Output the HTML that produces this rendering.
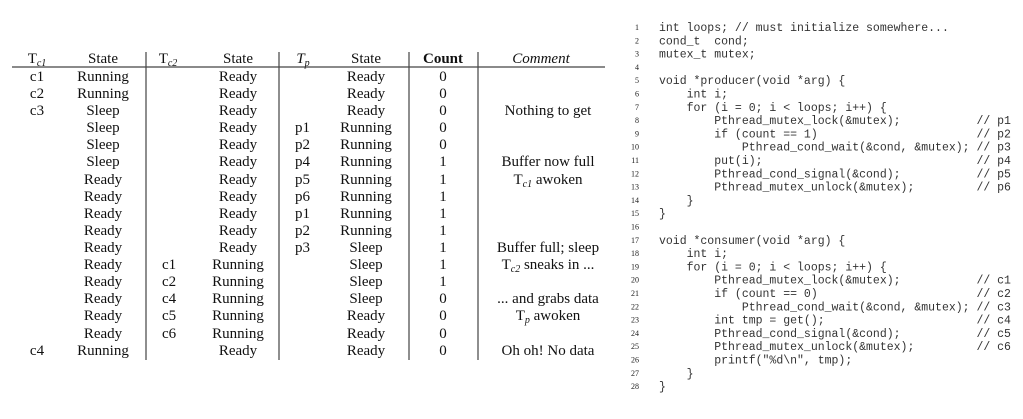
<!DOCTYPE html>
<html><head><meta charset="utf-8"><style>
html,body{margin:0;padding:0;background:#fff;width:1023px;height:419px;overflow:hidden}
svg{display:block}
.t{font-family:"Liberation Serif",serif;font-size:15px;fill:#111}
.c text{font-family:"Liberation Mono",monospace;font-size:11.5px;fill:#333;white-space:pre}
.n{font-family:"Liberation Serif",serif;font-size:8px;fill:#222}
</style></head><body>
<svg width="1023" height="419" xmlns="http://www.w3.org/2000/svg">
<g stroke="#444" stroke-width="1.2">
<line x1="12" y1="67" x2="605" y2="67"/>
<line x1="146" y1="52" x2="146" y2="360"/>
<line x1="279" y1="52" x2="279" y2="360"/>
<line x1="409" y1="52" x2="409" y2="360"/>
<line x1="478" y1="52" x2="478" y2="360"/>
</g>
<g class="t" text-anchor="middle">
<text x="37" y="63">T<tspan font-size="10" font-style="italic" dy="3">c1</tspan></text>
<text x="103" y="63">State</text>
<text x="168" y="63">T<tspan font-size="10" font-style="italic" dy="3">c2</tspan></text>
<text x="238" y="63">State</text>
<text x="303" y="63" font-style="italic">T<tspan font-size="10" dy="3">p</tspan></text>
<text x="366" y="63">State</text>
<text x="443" y="63" font-weight="bold">Count</text>
<text x="541" y="63" font-style="italic">Comment</text>
</g>
<g class="t" text-anchor="middle">
<text x="37" y="81">c1</text><text x="37" y="98">c2</text><text x="37" y="115">c3</text><text x="37" y="355">c4</text>
<text x="103" y="81">Running</text><text x="103" y="98">Running</text><text x="103" y="115">Sleep</text><text x="103" y="132">Sleep</text><text x="103" y="149">Sleep</text><text x="103" y="166">Sleep</text><text x="103" y="184">Ready</text><text x="103" y="201">Ready</text><text x="103" y="218">Ready</text><text x="103" y="235">Ready</text><text x="103" y="252">Ready</text><text x="103" y="269">Ready</text><text x="103" y="286">Ready</text><text x="103" y="303">Ready</text><text x="103" y="320">Ready</text><text x="103" y="338">Ready</text><text x="103" y="355">Running</text>
<text x="238" y="81">Ready</text><text x="238" y="98">Ready</text><text x="238" y="115">Ready</text><text x="238" y="132">Ready</text><text x="238" y="149">Ready</text><text x="238" y="166">Ready</text><text x="238" y="184">Ready</text><text x="238" y="201">Ready</text><text x="238" y="218">Ready</text><text x="238" y="235">Ready</text><text x="238" y="252">Ready</text><text x="238" y="269">Running</text><text x="238" y="286">Running</text><text x="238" y="303">Running</text><text x="238" y="320">Running</text><text x="238" y="338">Running</text><text x="238" y="355">Ready</text>
<text x="366" y="81">Ready</text><text x="366" y="98">Ready</text><text x="366" y="115">Ready</text><text x="366" y="132">Running</text><text x="366" y="149">Running</text><text x="366" y="166">Running</text><text x="366" y="184">Running</text><text x="366" y="201">Running</text><text x="366" y="218">Running</text><text x="366" y="235">Running</text><text x="366" y="252">Sleep</text><text x="366" y="269">Sleep</text><text x="366" y="286">Sleep</text><text x="366" y="303">Sleep</text><text x="366" y="320">Ready</text><text x="366" y="338">Ready</text><text x="366" y="355">Ready</text>
<text x="443" y="81">0</text><text x="443" y="98">0</text><text x="443" y="115">0</text><text x="443" y="132">0</text><text x="443" y="149">0</text><text x="443" y="166">1</text><text x="443" y="184">1</text><text x="443" y="201">1</text><text x="443" y="218">1</text><text x="443" y="235">1</text><text x="443" y="252">1</text><text x="443" y="269">1</text><text x="443" y="286">1</text><text x="443" y="303">0</text><text x="443" y="320">0</text><text x="443" y="338">0</text><text x="443" y="355">0</text>
<text x="548" y="115">Nothing to get</text>
<text x="548" y="166">Buffer now full</text>
<text x="548" y="184">T<tspan font-size="10" font-style="italic" dy="3">c1</tspan><tspan dy="-3"> awoken</tspan></text>
<text x="548" y="252">Buffer full; sleep</text>
<text x="548" y="269">T<tspan font-size="10" font-style="italic" dy="3">c2</tspan><tspan dy="-3"> sneaks in ...</tspan></text>
<text x="548" y="303">... and grabs data</text>
<text x="548" y="320">T<tspan font-size="10" font-style="italic" dy="3">p</tspan><tspan dy="-3"> awoken</tspan></text>
<text x="548" y="355">Oh oh! No data</text>
</g>
<g class="t">
<text x="295" y="132">p1</text><text x="295" y="149">p2</text><text x="295" y="166">p4</text><text x="295" y="184">p5</text><text x="295" y="201">p6</text><text x="295" y="218">p1</text><text x="295" y="235">p2</text><text x="295" y="252">p3</text>
<text x="162" y="269">c1</text><text x="162" y="286">c2</text><text x="162" y="303">c4</text><text x="162" y="320">c5</text><text x="162" y="338">c6</text>
</g>
<g class="n" text-anchor="end">
<text x="639" y="30">1</text><text x="639" y="43.3">2</text><text x="639" y="56.6">3</text><text x="639" y="69.9">4</text><text x="639" y="83.2">5</text><text x="639" y="96.5">6</text><text x="639" y="109.8">7</text><text x="639" y="123.1">8</text><text x="639" y="136.4">9</text><text x="639" y="149.7">10</text><text x="639" y="163">11</text><text x="639" y="176.3">12</text><text x="639" y="189.6">13</text><text x="639" y="202.9">14</text><text x="639" y="216.2">15</text><text x="639" y="229.5">16</text><text x="639" y="242.8">17</text><text x="639" y="256.1">18</text><text x="639" y="269.4">19</text><text x="639" y="282.7">20</text><text x="639" y="296">21</text><text x="639" y="309.3">22</text><text x="639" y="322.6">23</text><text x="639" y="335.9">24</text><text x="639" y="349.2">25</text><text x="639" y="362.5">26</text><text x="639" y="375.8">27</text><text x="639" y="389.1">28</text>
</g>
<g class="c">
<text x="659" y="31">int loops; // must initialize somewhere...</text>
<text x="659" y="44.3">cond_t  cond;</text>
<text x="659" y="57.6">mutex_t mutex;</text>
<text x="659" y="84.2">void *producer(void *arg) {</text>
<text x="659" y="97.5">    int i;</text>
<text x="659" y="110.8">    for (i = 0; i &lt; loops; i++) {</text>
<text x="659" y="124.1">        Pthread_mutex_lock(&amp;mutex);           // p1</text>
<text x="659" y="137.4">        if (count == 1)                       // p2</text>
<text x="659" y="150.7">            Pthread_cond_wait(&amp;cond, &amp;mutex); // p3</text>
<text x="659" y="164">        put(i);                               // p4</text>
<text x="659" y="177.3">        Pthread_cond_signal(&amp;cond);           // p5</text>
<text x="659" y="190.6">        Pthread_mutex_unlock(&amp;mutex);         // p6</text>
<text x="659" y="203.9">    }</text>
<text x="659" y="217.2">}</text>
<text x="659" y="243.8">void *consumer(void *arg) {</text>
<text x="659" y="257.1">    int i;</text>
<text x="659" y="270.4">    for (i = 0; i &lt; loops; i++) {</text>
<text x="659" y="283.7">        Pthread_mutex_lock(&amp;mutex);           // c1</text>
<text x="659" y="297">        if (count == 0)                       // c2</text>
<text x="659" y="310.3">            Pthread_cond_wait(&amp;cond, &amp;mutex); // c3</text>
<text x="659" y="323.6">        int tmp = get();                      // c4</text>
<text x="659" y="336.9">        Pthread_cond_signal(&amp;cond);           // c5</text>
<text x="659" y="350.2">        Pthread_mutex_unlock(&amp;mutex);         // c6</text>
<text x="659" y="363.5">        printf("%d\n", tmp);</text>
<text x="659" y="376.8">    }</text>
<text x="659" y="390.1">}</text>
</g>
</svg>
</body></html>
